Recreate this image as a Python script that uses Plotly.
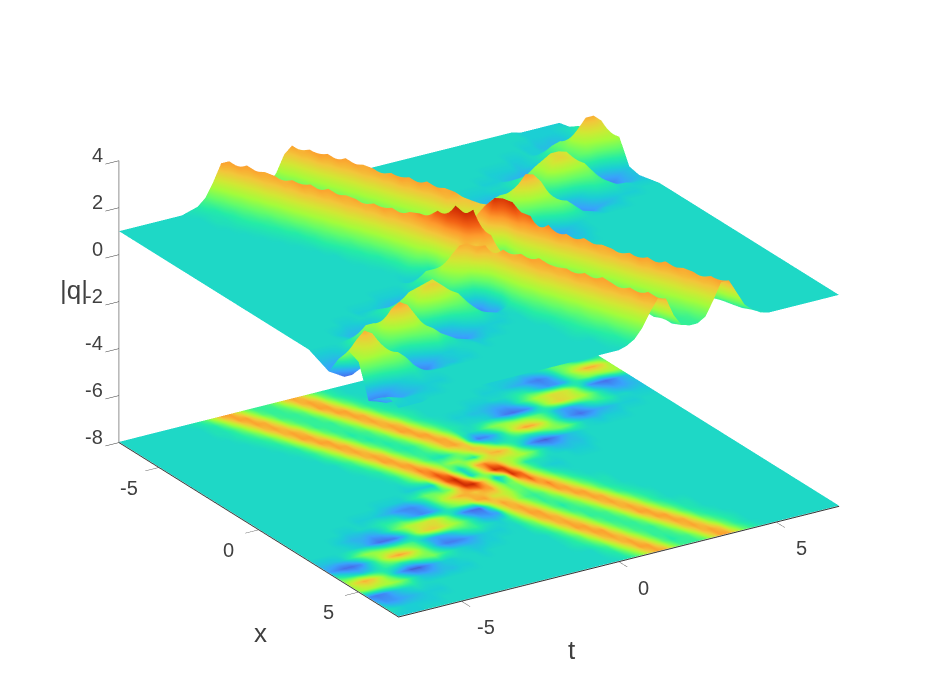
import plotly.graph_objects as go

t_values = [-7 + 0.25 * i for i in range(57)]
x_values = [-7 + 0.5 * i for i in range(29)]
z_ticks = [-8, -6, -4, -2, 0, 2, 4]
side_ticks = [-5, 0, 5]
floor_level = -7.97

# |q|, in tenths: one row per x value, one column per t value
q_tenths = [
[10,10,10,10,10,10,10,10,10,11,12,15,21,28,28,22,16,13,13,14,18,25,28,25,18,14,12,11,10,10,10,10,10,10,10,10,10,10,10,10,10,10,10,10,10,10,10,10,10,10,10,9,9,9,9,9,9],
[10,10,10,10,10,10,10,10,10,10,11,12,16,22,28,28,21,15,13,13,15,19,26,28,25,17,13,11,10,10,10,10,10,10,10,10,10,10,10,10,10,10,10,10,10,10,10,10,10,10,10,9,9,9,9,10,10],
[10,10,10,10,10,10,10,10,10,10,11,11,13,17,23,28,27,20,14,13,13,15,21,28,28,22,16,13,11,10,10,10,10,10,10,10,10,10,10,10,10,10,10,10,10,10,10,10,10,9,9,8,8,7,8,10,13],
[10,10,10,10,10,10,10,10,10,10,10,11,12,14,18,25,28,25,18,14,13,13,16,22,28,28,21,15,12,11,10,10,10,10,10,10,10,10,10,10,10,10,10,10,10,10,9,9,10,9,9,8,6,3,1,2,6],
[10,10,10,10,10,10,10,10,10,10,10,10,11,12,14,19,26,28,25,17,13,13,13,17,23,28,27,20,14,12,11,10,10,10,10,10,10,10,10,10,10,10,9,9,9,9,8,9,10,12,15,16,15,12,11,11,12],
[10,10,10,10,10,10,10,10,10,10,10,10,10,11,12,15,21,28,28,22,16,13,13,14,18,25,28,25,18,14,12,11,10,10,10,10,10,10,10,10,9,9,9,8,7,6,4,3,5,9,14,18,23,27,27,24,18],
[10,10,10,10,10,10,10,10,10,10,10,10,10,10,11,12,16,22,28,28,21,15,12,13,14,19,26,28,25,17,13,11,10,10,10,10,10,9,9,9,10,10,11,12,12,10,7,5,5,7,12,15,17,17,18,19,19],
[10,10,10,10,10,10,10,10,10,10,10,10,10,10,10,11,13,17,23,28,27,20,14,12,13,15,21,28,28,22,16,13,11,10,9,9,8,8,7,6,6,8,12,15,19,21,23,23,22,17,11,5,3,2,4,7,9],
[10,10,10,10,10,10,10,10,10,10,10,10,10,10,10,10,12,14,18,25,28,25,18,14,12,13,16,22,28,28,21,15,12,11,10,10,10,9,6,3,2,3,5,11,17,22,24,23,21,19,15,11,8,6,6,7,8],
[10,10,10,10,10,10,10,10,10,10,10,10,10,10,10,10,10,12,14,19,26,28,25,17,13,12,13,17,23,28,27,20,12,10,11,14,17,18,18,17,17,16,15,12,8,6,6,8,11,13,13,12,10,10,9,9,9],
[10,10,10,10,10,10,10,10,10,10,10,10,10,10,10,10,10,11,12,15,20,28,28,22,16,13,13,15,19,26,28,25,10,3,4,7,12,18,24,28,27,23,17,12,7,4,2,4,6,7,8,9,9,9,10,10,10],
[10,10,10,10,10,10,10,10,10,10,10,10,10,10,10,10,10,10,11,12,16,22,28,28,21,15,12,11,13,17,22,26,24,17,11,11,12,12,11,12,14,16,17,16,13,10,9,8,9,9,9,10,10,10,10,10,10],
[10,10,10,10,10,10,10,10,10,10,10,10,10,10,10,10,10,10,10,11,13,18,24,30,28,21,16,18,18,14,12,20,26,27,24,16,10,5,2,1,3,6,8,9,10,10,10,10,10,10,10,10,10,10,10,10,10],
[10,10,10,10,10,10,10,10,10,10,10,10,10,10,10,10,10,10,10,10,12,15,20,28,33,28,16,10,16,27,30,26,21,20,20,19,16,12,9,7,7,8,8,9,10,10,10,10,10,10,10,10,10,10,10,10,10],
[10,10,10,10,10,10,10,10,10,10,10,10,10,10,10,10,10,10,10,9,9,9,9,22,33,37,24,10,15,24,36,35,23,17,12,11,11,10,10,10,9,9,9,10,10,10,10,10,10,10,10,10,10,10,10,10,10],
[10,10,10,10,10,10,10,10,10,10,10,10,10,10,9,9,9,9,11,13,16,16,15,17,26,36,37,28,19,8,15,36,31,19,14,10,9,9,10,10,10,10,10,10,10,10,10,10,10,10,10,10,10,10,10,10,10],
[10,10,10,10,10,10,10,10,10,10,9,9,9,8,7,5,4,4,6,10,15,20,24,27,27,25,28,28,20,15,17,25,32,25,18,13,11,10,10,10,10,10,10,10,10,10,10,10,10,10,10,10,10,10,10,10,10],
[10,10,10,10,10,10,10,9,9,10,10,11,12,12,12,9,6,4,5,8,13,16,18,20,27,28,23,22,20,16,15,20,26,30,24,17,13,11,10,10,10,10,10,10,10,10,10,10,10,10,10,10,10,10,10,10,10],
[10,10,10,10,10,9,8,7,7,6,7,10,14,17,20,21,22,23,20,15,9,4,2,2,13,23,28,25,18,14,13,15,21,28,28,22,16,13,11,11,10,10,10,10,10,10,10,10,10,10,10,10,10,10,10,10,10],
[10,10,10,10,10,10,9,8,5,2,2,3,7,13,20,24,25,23,20,18,14,10,6,5,6,18,26,28,23,17,13,14,16,22,28,28,21,15,12,11,10,10,10,10,10,10,10,10,10,10,10,10,10,10,10,10,10],
[8,8,8,9,12,15,18,18,17,16,15,15,14,10,7,6,7,9,12,13,13,11,10,9,11,15,22,28,28,21,15,12,14,17,23,28,27,20,14,12,11,10,10,10,10,10,10,10,10,10,10,10,10,10,10,10,10],
[6,4,2,2,4,9,14,20,26,28,26,21,16,11,6,3,3,4,6,8,9,9,9,10,10,13,17,25,28,26,19,14,13,14,18,25,28,25,19,14,12,11,10,10,10,10,10,10,10,10,10,10,10,10,10,10,10],
[14,12,10,8,9,11,13,13,12,13,15,16,17,14,12,10,9,8,8,9,9,10,10,10,10,12,14,19,26,28,24,18,13,13,14,19,26,28,24,17,13,11,10,10,10,10,10,10,10,10,10,10,10,10,10,10,10],
[20,24,27,25,20,14,8,4,1,1,4,7,9,9,10,10,10,9,10,10,10,10,10,10,10,10,12,15,21,28,28,22,16,13,13,15,21,28,28,22,16,13,11,11,10,10,10,10,10,10,10,10,10,10,10,10,10],
[18,20,20,19,19,18,15,11,8,7,7,8,8,9,9,10,10,10,10,10,10,10,10,10,10,10,11,13,16,23,28,28,20,15,13,13,16,22,28,28,21,15,12,11,10,10,10,10,10,10,10,10,10,10,10,10,10],
[4,3,4,7,9,10,11,10,10,10,10,10,10,10,10,10,10,10,10,10,10,10,10,10,10,10,11,12,14,18,25,28,25,18,14,13,13,17,23,28,27,20,14,12,11,10,10,10,10,10,10,10,10,10,10,10,10],
[8,5,5,6,7,8,9,9,9,10,10,10,10,10,10,10,10,10,10,10,10,10,10,10,10,10,10,10,12,14,20,26,28,23,17,13,13,14,18,25,28,25,18,14,12,11,10,10,10,10,10,10,10,10,10,10,10],
[11,10,9,9,9,9,9,10,10,10,10,10,10,10,10,10,10,10,10,10,10,10,10,10,10,10,10,10,11,12,16,21,28,28,21,15,12,13,14,19,26,28,25,17,13,11,10,10,10,10,10,10,10,10,10,10,10],
[9,9,9,9,10,10,10,10,10,10,10,10,10,10,10,10,10,10,10,10,10,10,10,10,10,10,10,10,10,11,13,17,23,28,27,19,14,13,13,15,21,28,28,22,16,13,11,10,10,10,10,10,10,10,10,10,10],
]
q_rows = [[v / 10 for v in col] for col in zip(*q_tenths)]

flat = dict(ambient=1, diffuse=0, specular=0, roughness=1, fresnel=0)
fig = go.Figure()
fig.add_surface(x=x_values, y=t_values, z=q_rows, surfacecolor=q_rows, colorscale="Turbo",
                cmin=-0.42, cmax=4.18, showscale=False, lighting=flat, hoverinfo="skip")
fig.add_surface(x=x_values, y=t_values, z=[[floor_level] * len(x_values) for _ in t_values],
                surfacecolor=q_rows, colorscale="Turbo", cmin=-0.42, cmax=4.18,
                showscale=False, lighting=flat, hoverinfo="skip")


def axis(vals, rng, color):
    return dict(title=dict(text=""), range=rng, tickvals=vals, showticklabels=False, showgrid=False,
                zeroline=False, showbackground=False, showline=True, linecolor=color, linewidth=2,
                ticks="outside", ticklen=16, tickcolor="#303030", tickwidth=1, showspikes=False)


def label(x, y, z, text, size, dx, dy, anchor="center"):
    return dict(x=x, y=y, z=z, text=text, showarrow=False, xanchor=anchor, yanchor="middle",
                xshift=dx, yshift=dy, font=dict(family="Liberation Sans", size=size, color="#404040"))


notes = [label(-7, -7, v, str(v), 20, -14, 6, "right") for v in z_ticks]
for v in side_ticks:
    notes.append(label(v, -7, -8, str(v), 20, -30, -20))
    notes.append(label(7, v, -8, str(v), 20, 25, -26))
notes.append(label(0, -7, -8, "x", 26, 2, -103))
notes.append(label(7, 0, -8, "t", 26, -47, -88))
notes.append(label(-7, -7, -2, "|q|", 26, -45, 12))

fig.update_layout(
    width=926, height=695, margin=dict(l=0, r=0, t=0, b=0), paper_bgcolor="white",
    scene=dict(
        domain=dict(x=[0.017, 1], y=[0.063, 1]),
        xaxis=axis(side_ticks, [-7, 7], "#303030"),
        yaxis=axis(side_ticks, [-7, 7], "#303030"),
        zaxis=axis(z_ticks, [-8, 4], "#909090"),
        aspectmode="manual", aspectratio=dict(x=1.603, y=1.603, z=0.943),
        camera=dict(projection=dict(type="orthographic"), up=dict(x=0, y=0, z=1),
                    center=dict(x=0, y=0, z=0),
                    eye=dict(x=0.928, y=-0.589, z=0.474)),
        annotations=notes,
    ),
)
fig.write_html("out.html")
